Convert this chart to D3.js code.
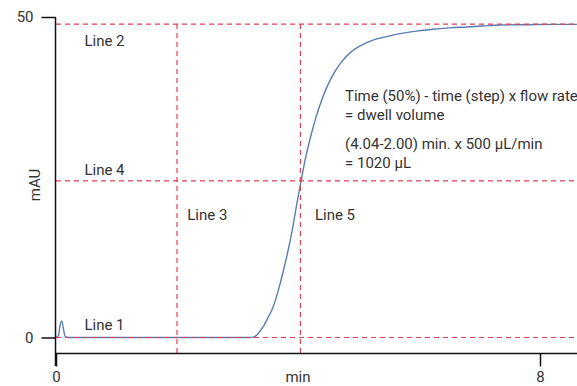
<!DOCTYPE html>
<html><head><meta charset="utf-8">
<script src="https://cdn.jsdelivr.net/npm/d3@7"></script>
<style>
body{margin:0;background:#fff;}
text{font-family:Roboto,"Liberation Sans",sans-serif;fill:#333;}
</style></head>
<body><svg id="c" width="577" height="386"></svg>
<script>
// Data
const timeMin = [0,0.04,0.07,0.095,0.12,0.15,0.2,1.0,2.0,3.0,3.2,3.26,3.34,3.42,3.5,3.59,3.67,3.75,3.83,3.90,3.97,4.05,4.12,4.20,4.28,4.36,4.47,4.58,4.72,4.86,5.05,5.24,5.45,5.69,5.95,6.23,6.5,6.79,7.05,7.34,7.8,8.2,8.61];
const signalMAU = [0,0.3,2.0,2.6,1.5,0.2,0,0,0,0,0,0.05,0.6,1.6,3.0,4.8,7.2,10.1,13.3,16.5,20.3,24.4,27.8,31.0,33.8,36.2,38.9,41.0,43.0,44.4,45.6,46.4,46.9,47.4,47.8,48.1,48.3,48.45,48.6,48.75,48.8,48.85,48.85];
const vLines = [2.00, 4.04];           // Line 3, Line 5 (min)
const hLines = [0, 48.9, 24.45];       // Line 1, Line 2, Line 4 (mAU)
const xTicks = [0, 8];
const yTicks = [0, 50];
const lineLabels = [
  {text:"Line 1", t:0.47, v:1.2},
  {text:"Line 2", t:0.47, v:45.4},
  {text:"Line 4", t:0.47, v:25.3},
  {text:"Line 3", t:2.17, v:18.3},
  {text:"Line 5", t:4.28, v:18.3}
];
const noteLines = ["Time (50%) - time (step) x flow rate","= dwell volume","(4.04-2.00) min. x 500 µL/min","= 1020 µL"];

const svg = d3.select("#c");
const x = d3.scaleLinear().domain([0,8]).range([56,540]);
const y = d3.scaleLinear().domain([0,50]).range([337.5,17]);
const red = "#e0404f";
const fs = 15;

// curve
const pts = timeMin.map((t,i)=>[t, signalMAU[i]]);
svg.append("path").datum(pts)
  .attr("d", d3.line().x(d=>x(d[0])).y(d=>y(d[1])).curve(d3.curveMonotoneX))
  .attr("fill","none").attr("stroke","#5a7db5").attr("stroke-width",1.4);

// dashed reference lines
svg.selectAll(".hl").data(hLines).join("line")
  .attr("x1", x(0)).attr("x2", 577)
  .attr("y1", d=>y(d)).attr("y2", d=>y(d))
  .attr("stroke", red).attr("stroke-width",1.2).attr("stroke-dasharray","5,4");
svg.selectAll(".vl").data(vLines).join("line")
  .attr("x1", d=>x(d)).attr("x2", d=>x(d))
  .attr("y1", y(48.9)).attr("y2", 353)
  .attr("stroke", red).attr("stroke-width",1.2).attr("stroke-dasharray","5,4");

// axes
const ya = svg.append("g").attr("transform","translate(55.5,0)")
  .call(d3.axisLeft(y).tickValues(yTicks).tickSize(14).tickPadding(8).tickFormat(d3.format("d")));
ya.select(".domain").remove();
ya.append("line").attr("x1",0).attr("x2",0).attr("y1",y(50)).attr("y2",366).attr("stroke","#111").attr("stroke-width",1.5);
ya.selectAll("line").attr("stroke","#111").attr("stroke-width",1.5);
ya.selectAll("text").attr("font-size",fs).style("fill","#333");

const xa = svg.append("g").attr("transform","translate(0,353.5)")
  .call(d3.axisBottom(x).tickValues(xTicks).tickSize(13).tickPadding(10).tickFormat(d3.format("d")));
xa.select(".domain").remove();
xa.append("line").attr("x1",55).attr("x2",577).attr("y1",0).attr("y2",0).attr("stroke","#111").attr("stroke-width",1.5);
xa.selectAll("line").attr("stroke","#111").attr("stroke-width",1.5);
xa.selectAll("text").attr("font-size",fs).attr("y",28).attr("dy",null).style("fill","#333");

svg.append("text").attr("x", x(4)).attr("y", 381.5).attr("text-anchor","middle").attr("font-size",fs).text("min");
svg.append("text").attr("transform","translate(40,185) rotate(-90)").attr("text-anchor","middle").attr("font-size",fs).text("mAU");

// labels
svg.selectAll(".lab").data(lineLabels).join("text")
  .attr("x", d=>x(d.t)).attr("y", d=>y(d.v)).attr("font-size",fs).text(d=>d.text);

const noteY = [101,120,149,168];
svg.selectAll(".note").data(noteLines).join("text")
  .attr("x",345).attr("y",(d,i)=>noteY[i]).attr("font-size",fs).text(d=>d);
</script></body></html>
